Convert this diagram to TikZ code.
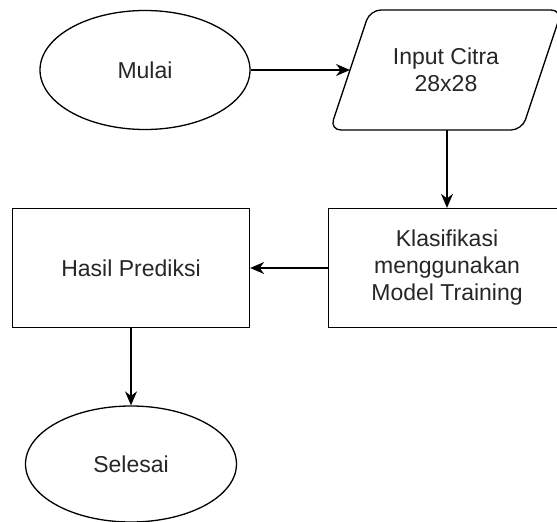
\documentclass[tikz,border=0pt]{standalone}
\usepackage{fontspec}
\setmainfont{Liberation Sans}
\usetikzlibrary{shapes.geometric,arrows.meta}

\begin{document}
\begin{tikzpicture}[x=1pt,y=-1pt,line width=1.3pt,
    every node/.style={font=\fontsize{23}{27}\selectfont,text=black!85,align=center,inner sep=0pt},
    terminal/.style={draw,ellipse,minimum width=210,minimum height=119},
    process/.style={draw,rectangle,minimum width=237,minimum height=119},
    flow/.style={-{Stealth[length=14pt,width=12pt]}}]
    \useasboundingbox (0,0) rectangle (557,522);
    \node[terminal] (mulai) at (145,70) {Mulai};
    \draw[rounded corners=11] (330,130) -- (370,10) -- (562,10) -- (522,130) -- cycle;
    \node (input) at (446,70) {Input Citra\\28x28};
    \coordinate (inleft) at (350,70);
    \coordinate (inbottom) at (447,130);
    \node[process] (klasifikasi) at (447,268) {Klasifikasi\\menggunakan\\Model Training};
    \node[process] (hasil) at (131,268) {Hasil Prediksi};
    \node[terminal,minimum width=211,minimum height=116] (selesai) at (131,464) {Selesai};
    \draw[flow] (mulai) -- (inleft);
    \draw[flow] (inbottom) -- (klasifikasi.north -| inbottom);
    \draw[flow] (klasifikasi) -- (hasil);
    \draw[flow] (hasil) -- (selesai);
\end{tikzpicture}
\end{document}
